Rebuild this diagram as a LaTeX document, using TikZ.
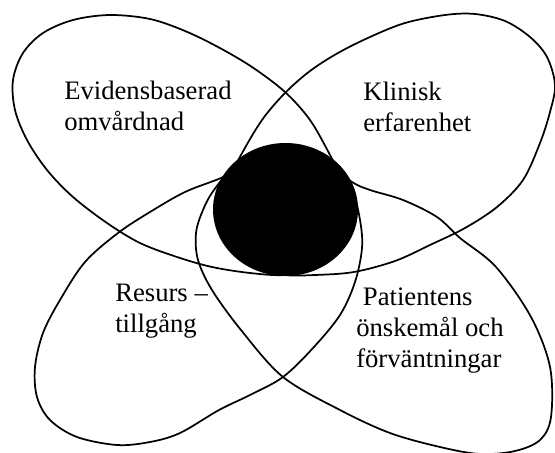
\documentclass[tikz,border=0pt]{standalone}
\usepackage{fontspec}
\setmainfont{Liberation Serif}
\usetikzlibrary{shapes.geometric}

\begin{document}
\begin{tikzpicture}[
  x=0.75pt,
  y=-0.75pt,
  line cap=round,
  line join=round,
  every node/.style={
    align=left,
    inner sep=0pt,
    font=\fontsize{20}{23.25}\selectfont,
  },
  petal/.style={
    draw=black,
    line width=1.3pt,
  },
  core/.style={
    ellipse,
    fill=black,
    minimum width=108.75pt,
    minimum height=99.75pt,
  },
  lbl/.style={
    anchor=base west,
  },
]
\clip (0,0) rectangle (555,452);

% --- petals ---
\draw[petal] plot[smooth cycle, tension=0.55] coordinates {
  (285,92) (252,67) (218,47) (185,31) (150,19) (110,15) (73,20) (43,33)
  (23,53) (13,80) (15,110) (27,140) (47,170) (73,197) (107,223) (140,243)
  (177,257) (212,267) (250,273) (285,275) (312,268) (338,245) (348,210)
  (342,180) (330,155) (310,120)};

\draw[petal] plot[smooth cycle, tension=0.55] coordinates {
  (285,93) (310,71) (338,53) (370,37) (405,23) (445,15) (475,14) (505,21)
  (530,37) (547,57) (555,85) (550,112) (540,143) (523,180) (497,207)
  (465,228) (430,245) (395,261) (354,272) (315,275) (285,275) (259,268)
  (233,245) (223,210) (229,180) (241,155) (262,120)};

\draw[petal] plot[smooth cycle, tension=0.55] coordinates {
  (221,178) (255,162) (305,158) (335,172) (352,190) (360,220) (362,248)
  (355,282) (340,315) (313,348) (283,377) (250,395) (219,410) (180,433)
  (150,442) (117,445) (77,437) (50,420) (37,397) (35,367) (43,333)
  (60,300) (85,262) (118,233) (150,212) (185,192)};

\draw[petal] plot[smooth cycle, tension=0.55] coordinates {
  (352,182) (370,190) (403,200) (437,217) (460,238) (496,267) (531,317)
  (550,367) (551,417) (540,440) (515,451) (480,454) (440,447) (390,433)
  (340,410) (283,377) (241,330) (212,290) (198,260) (196,233) (203,210)
  (214,190) (235,168) (280,152) (325,162)};

% --- centre ---
\node[core] (core) at (285.5,209.5) {};

% --- labels ---
\node[lbl] (evid) at (64,131) {Evidensbaserad\\omvårdnad};
\node[lbl] (klin) at (363,132) {Klinisk\\erfarenhet};
\node[lbl] (resurs) at (115,332) {Resurs \textendash\\tillgång};
\node[lbl] (patient) at (356,367) {\hspace*{0.25em}Patientens\\önskemål och\\förväntningar};

\end{tikzpicture}
\end{document}
